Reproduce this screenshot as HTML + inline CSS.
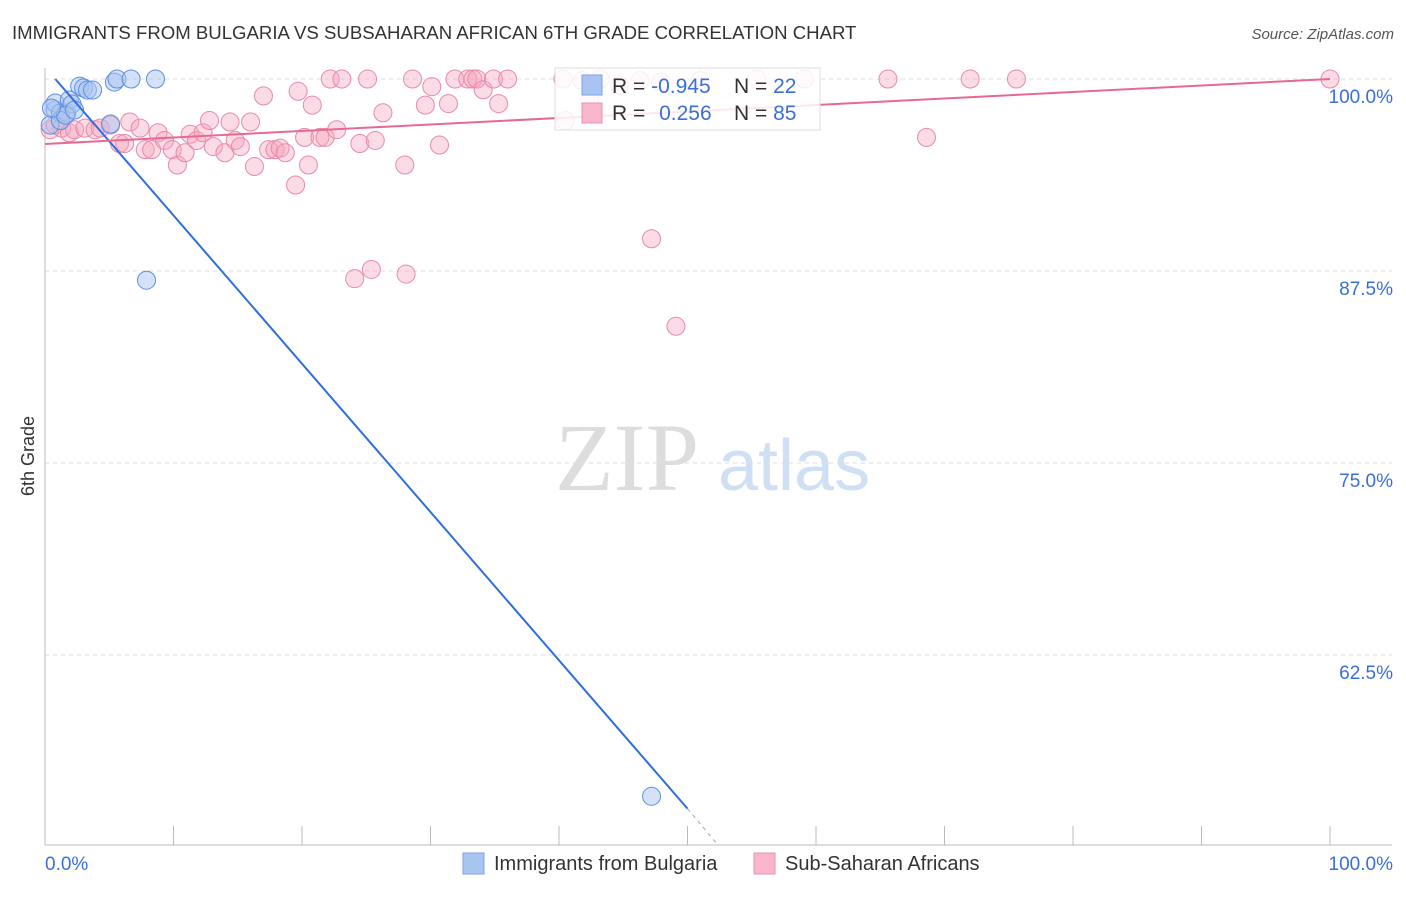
<!DOCTYPE html>
<html><head><meta charset="utf-8"><style>
body{margin:0;background:#fff;font-family:"Liberation Sans",sans-serif;}
</style></head><body>
<svg id="chart" width="1406" height="892" viewBox="0 0 1406 892" xmlns="http://www.w3.org/2000/svg" font-family="Liberation Sans, sans-serif">
<text x="12" y="39" font-size="18.6" fill="#333">IMMIGRANTS FROM BULGARIA VS SUBSAHARAN AFRICAN 6TH GRADE CORRELATION CHART</text>
<text x="1394" y="39" font-size="15" fill="#555" text-anchor="end" font-style="italic">Source: ZipAtlas.com</text>
<text x="555" y="490" font-size="96" fill="#ddd" font-family="Liberation Serif, serif">ZIP</text>
<text x="718" y="490" font-size="72" fill="#cfe0f5">atlas</text>
<text transform="translate(34,456) rotate(-90)" font-size="18" fill="#333" text-anchor="middle">6th Grade</text>
<g id="grid"></g><g id="axes"></g><g id="pinkpts"></g><g id="bluepts"></g><g id="lines"></g>
<g>
<rect x="555" y="68" width="265" height="62" fill="#fff" fill-opacity="0.85" stroke="#ddd"/>
<rect x="582" y="75" width="20" height="20" fill="#a9c4f0" stroke="#7aa3e5"/>
<rect x="582" y="103" width="20" height="20" fill="#f7b6ca" stroke="#ee93b0"/>
<text x="612" y="93" font-size="21" fill="#333">R = <tspan fill="#3a6fd8">-0.945</tspan></text>
<text x="734" y="93" font-size="21" fill="#333">N = <tspan fill="#3a6fd8">22</tspan></text>
<text x="612" y="120" font-size="21" fill="#333">R = <tspan fill="#3a6fd8" dx="8">0.256</tspan></text>
<text x="734" y="120" font-size="21" fill="#333">N = <tspan fill="#3a6fd8">85</tspan></text>
</g>
<g>
<rect x="463" y="853" width="21" height="21" fill="#a9c4f0" stroke="#7aa3e5"/>
<text x="494" y="870" font-size="20" fill="#333">Immigrants from Bulgaria</text>
<rect x="754" y="853" width="21" height="21" fill="#f7b6ca" stroke="#ee93b0"/>
<text x="785" y="870" font-size="20" fill="#333">Sub-Saharan Africans</text>
</g>
</svg>
<script>
const yTicks=[100,87.5,75,62.5];
const yTickLabels=["100.0%","87.5%","75.0%","62.5%"];
const xTickLabels=["0.0%","100.0%"];
const blueX=[0.8,0.8,1.2,1.7,1.9,2.1,2.7,3.0,3.3,3.7,5.4,5.6,6.7,8.6,5.1,0.4,1.2,1.6,2.3,7.9,47.2,0.5];
const blueY=[97.98,98.44,97.79,97.79,98.63,98.37,99.54,99.41,99.28,99.28,99.8,100,100,100,97.07,97.0,97.3,97.65,97.98,86.9,53.3,98.1];
const pinkX=[0.4,0.8,1.3,1.9,2.3,3.1,3.9,4.3,5.1,5.8,6.2,6.6,7.4,7.8,8.3,8.8,9.3,9.9,10.3,10.9,11.3,11.8,12.3,12.8,13.1,14.0,14.4,14.8,15.2,16.0,16.3,17.0,17.4,17.9,18.3,18.7,19.5,19.7,20.2,20.5,20.8,21.4,21.8,22.2,22.7,23.1,24.1,24.5,25.1,25.4,25.7,26.3,28.0,28.1,28.6,29.6,30.1,30.7,31.4,31.9,32.9,33.3,33.6,34.1,34.9,35.3,36.0,40.5,40.3,41.8,42.4,43.2,44.7,46.3,47.2,47.9,49.1,51.0,55.4,59.1,65.6,68.6,72.0,75.6,100];
const pinkY=[96.7,97.0,96.8,96.5,96.7,96.8,96.7,96.8,97.0,95.8,95.8,97.2,96.8,95.4,95.4,96.5,96.0,95.4,94.4,95.2,96.4,96.0,96.5,97.3,95.6,95.2,97.2,96.0,95.6,97.2,94.3,98.9,95.4,95.4,95.5,95.2,93.1,99.2,96.2,94.4,98.3,96.2,96.2,100,96.7,100,87.0,95.8,100,87.6,96.0,97.8,94.4,87.3,100,98.3,99.5,95.7,98.4,100,100,100,100,99.3,100,98.4,100,97.3,100,99.9,98.6,100,99.6,99.9,89.6,99.8,83.9,99.9,100,100,100,96.2,100,100,100];
const blueLine=[[0.8,100],[50,52.5],[52.2,50.3]];
const pinkLine=[[0,95.77],[100,100]];
const NS="http://www.w3.org/2000/svg";
const X0=45,X1=1330,Y100=79,PXPER=15.36;
const sx=v=>X0+(X1-X0)*v/100;
const sy=v=>Y100+(100-v)*PXPER;
function mk(tag,attrs,parent){const e=document.createElementNS(NS,tag);for(const k in attrs)e.setAttribute(k,attrs[k]);parent.appendChild(e);return e;}
const grid=document.getElementById('grid'),axes=document.getElementById('axes');
yTicks.forEach((t,i)=>{
 const l=mk('line',{x1:X0,x2:1392,y1:sy(t),y2:sy(t),stroke:'#ddd','stroke-dasharray':'4,4'},grid);
 
 
 const tx=mk('text',{x:1393,y:sy(t)+24,'font-size':19,fill:'#3a6fd8','text-anchor':'end'},axes);
 tx.textContent=yTickLabels[i];
 
 
});
const ya=mk('line',{x1:X0,x2:X0,y1:68,y2:845,stroke:'#bbb'},axes);


const xa=mk('line',{x1:X0,x2:1392,y1:845,y2:845,stroke:'#bbb'},axes);


for(let i=0;i<=10;i++){
 const t=mk('line',{x1:sx(i*10),x2:sx(i*10),y1:826,y2:845,stroke:'#bbb'},axes);
 
 
}
[[0,'start',45],[100,'end',1393]].forEach((d,i)=>{
 const tx=mk('text',{x:d[2],y:870,'font-size':19,fill:'#3a6fd8','text-anchor':d[1]},axes);
 tx.textContent=xTickLabels[i];
 
 
});
const pg=document.getElementById('pinkpts');
pinkX.forEach((x,i)=>{
 const c=mk('circle',{cx:sx(x),cy:sy(pinkY[i]),r:9,fill:'#f4a6bf','fill-opacity':0.4,stroke:'#e88aa8','stroke-width':1},pg);
 
 
});
const bg=document.getElementById('bluepts');
blueX.forEach((x,i)=>{
 const c=mk('circle',{cx:sx(x),cy:sy(blueY[i]),r:9,fill:'#a9c4f0','fill-opacity':0.5,stroke:'#5b8fe0','stroke-width':1},bg);
 
 
});
const lg=document.getElementById('lines');
const bl=mk('line',{x1:sx(blueLine[0][0]),y1:sy(blueLine[0][1]),x2:sx(blueLine[1][0]),y2:sy(blueLine[1][1]),stroke:'#2f6fdc','stroke-width':2},lg);


const bd=mk('line',{x1:sx(blueLine[1][0]),y1:sy(blueLine[1][1]),x2:sx(blueLine[2][0]),y2:sy(blueLine[2][1]),stroke:'#aaa','stroke-width':1,'stroke-dasharray':'4,4'},lg);


const pl=mk('line',{x1:sx(pinkLine[0][0]),y1:sy(pinkLine[0][1]),x2:sx(pinkLine[1][0]),y2:sy(pinkLine[1][1]),stroke:'#e8698f','stroke-width':2},lg);


</script>
</body></html>
